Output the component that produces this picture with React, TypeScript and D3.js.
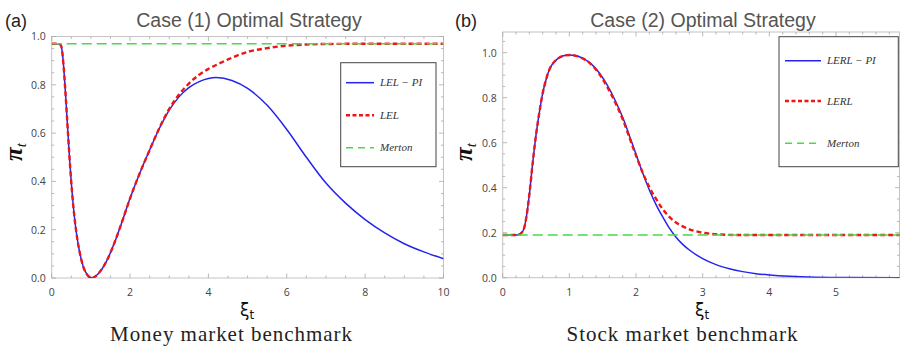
import React from "react";
import * as d3 from "d3";

// ---- Case (1): money market benchmark ----
const case1Xi = [0, 0.15, 0.23, 0.27, 0.3, 0.35, 0.4, 0.45, 0.5, 0.55, 0.6, 0.65, 0.7, 0.75, 0.8, 0.9, 1.02, 1.2, 1.4, 1.6, 1.8, 2.0, 2.25, 2.5, 2.75, 3.0, 3.25, 3.5, 3.75, 4.0, 4.2, 4.6, 5.0, 5.5, 6.0, 6.5, 7.0, 7.5, 8.0, 8.5, 9.0, 9.5, 10];
const case1LelPi = [0.97, 0.97, 0.965, 0.935, 0.885, 0.77, 0.64, 0.51, 0.395, 0.3, 0.225, 0.165, 0.118, 0.08, 0.05, 0.015, 0.0, 0.02, 0.07, 0.145, 0.235, 0.33, 0.435, 0.53, 0.62, 0.695, 0.75, 0.788, 0.812, 0.826, 0.83, 0.818, 0.785, 0.715, 0.615, 0.5, 0.393, 0.31, 0.242, 0.187, 0.142, 0.108, 0.08];
const case1LelXi = [0, 0.15, 0.23, 0.27, 0.3, 0.35, 0.4, 0.45, 0.5, 0.55, 0.6, 0.65, 0.7, 0.75, 0.8, 0.9, 1.02, 1.2, 1.4, 1.6, 1.8, 2.0, 2.25, 2.5, 2.75, 3.0, 3.25, 3.5, 3.75, 4.0, 4.25, 4.5, 5.0, 5.5, 6.0, 6.5, 7.0, 8.0, 10];
const case1Lel = [0.97, 0.97, 0.965, 0.935, 0.885, 0.77, 0.64, 0.51, 0.395, 0.3, 0.225, 0.165, 0.118, 0.08, 0.05, 0.015, 0.0, 0.02, 0.07, 0.145, 0.235, 0.33, 0.435, 0.53, 0.622, 0.7, 0.76, 0.805, 0.84, 0.866, 0.886, 0.905, 0.936, 0.952, 0.962, 0.967, 0.969, 0.97, 0.97];
const case1Merton = 0.97;

// ---- Case (2): stock market benchmark ----
const case2Xi = [0, 0.22, 0.3, 0.35, 0.4, 0.45, 0.5, 0.55, 0.6, 0.65, 0.7, 0.8, 0.9, 1.0, 1.1, 1.2, 1.31, 1.45, 1.56, 1.7, 1.81, 1.92, 2.01, 2.1, 2.2, 2.3, 2.4, 2.5, 2.6, 2.7, 2.8, 3.0, 3.2, 3.4, 3.6, 3.8, 4.0, 4.3, 4.7, 5.2, 6.0];
const case2LerlPi = [0.19, 0.19, 0.205, 0.26, 0.37, 0.51, 0.635, 0.735, 0.82, 0.88, 0.925, 0.967, 0.985, 0.99, 0.986, 0.975, 0.955, 0.91, 0.86, 0.78, 0.705, 0.615, 0.54, 0.465, 0.39, 0.325, 0.27, 0.22, 0.18, 0.148, 0.123, 0.085, 0.058, 0.04, 0.027, 0.018, 0.012, 0.006, 0.002, 0.0005, 0.0];
const case2LerlXi = [0, 0.22, 0.3, 0.35, 0.4, 0.45, 0.5, 0.55, 0.6, 0.65, 0.7, 0.8, 0.9, 1.0, 1.1, 1.2, 1.31, 1.45, 1.56, 1.7, 1.81, 1.92, 2.01, 2.1, 2.2, 2.3, 2.4, 2.5, 2.6, 2.7, 2.8, 3.0, 3.2, 3.5, 6.0];
const case2Lerl = [0.19, 0.19, 0.205, 0.26, 0.37, 0.51, 0.635, 0.735, 0.82, 0.88, 0.925, 0.967, 0.985, 0.99, 0.986, 0.975, 0.953, 0.905, 0.852, 0.772, 0.697, 0.607, 0.535, 0.467, 0.402, 0.35, 0.305, 0.27, 0.245, 0.228, 0.215, 0.2, 0.193, 0.19, 0.19];
const case2Merton = 0.19;

const BLUE = "#2424ee";
const RED = "#ee1515";
const GREEN = "#46dc46";

type Series = { xs: number[]; ys: number[] };

type PanelProps = {
  tag: string;
  title: string;
  subtitle: string;
  subWidth: number;
  left: number;
  right: number;
  top: number;
  bottom: number;
  xMax: number;
  yMax: number;
  xMajor: number[];
  xMinorStep: number;
  yMajor: number[];
  yMinorStep: number;
  blue: Series;
  red: Series;
  merton: number;
  legendNames: string[];
  legendBox: { x: number; y: number; w: number; h: number; rows: number[]; lineX0: number; lineX1: number; textX: number };
  tagX: number;
  titleX: number;
  yLabelX: number;
  xLabelX: number;
  subX: number;
};

function range(step: number, max: number) {
  const out: number[] = [];
  for (let v = 0; v <= max + 1e-9; v += step) out.push(+v.toFixed(6));
  return out;
}

function Panel(p: PanelProps) {
  const x = d3.scaleLinear().domain([0, p.xMax]).range([p.left, p.right]);
  const y = d3.scaleLinear().domain([0, p.yMax]).range([p.bottom, p.top]);
  const path = (s: Series) =>
    d3
      .line<[number, number]>()
      .x((d) => x(d[0]))
      .y((d) => y(d[1]))
      .curve(d3.curveMonotoneX)(s.xs.map((v, i) => [v, s.ys[i]] as [number, number])) || "";
  const mertonPath =
    d3
      .line<number>()
      .x((d) => x(d))
      .y(() => y(p.merton))([0, p.xMax]) || "";

  const xMinor = range(p.xMinorStep, p.xMax);
  const yMinor = range(p.yMinorStep, p.yMax);
  const isMajor = (v: number, arr: number[]) => arr.some((m) => Math.abs(m - v) < 1e-6);
  const frameColor = "#c4c4c4";
  const tickColor = "#a8a8a8";
  const clipId = `clip-${p.tag.replace(/[()]/g, "")}`;
  const lb = p.legendBox;
  const legendStyles = [
    { stroke: BLUE, width: 1.5, dash: undefined as string | undefined },
    { stroke: RED, width: 2.4, dash: "4,2.5" },
    { stroke: GREEN, width: 1.5, dash: "7,5" },
  ];

  return (
    <g>
      <text x={p.tagX} y={27} fontFamily="Liberation Sans, Arial, sans-serif" fontSize={18} fill="#222">
        {p.tag}
      </text>
      <text x={p.titleX} y={27} textAnchor="middle" fontFamily="Liberation Sans, Arial, sans-serif" fontSize={19.5} fill="#555">
        {p.title}
      </text>

      <defs>
        <clipPath id={clipId}>
          <rect x={p.left} y={p.top} width={p.right - p.left} height={p.bottom - p.top} />
        </clipPath>
      </defs>

      {/* frame */}
      <rect x={p.left} y={p.top} width={p.right - p.left} height={p.bottom - p.top} fill="none" stroke={frameColor} strokeWidth={1} />

      {/* frame ticks on all four sides */}
      {xMinor.map((v) => {
        const len = isMajor(v, p.xMajor) ? 4.5 : 2.5;
        return (
          <g key={`xt${v}`} stroke={tickColor} strokeWidth={0.8}>
            <line x1={x(v)} x2={x(v)} y1={p.bottom} y2={p.bottom - len} />
            <line x1={x(v)} x2={x(v)} y1={p.top} y2={p.top + len} />
          </g>
        );
      })}
      {yMinor.map((v) => {
        const len = isMajor(v, p.yMajor) ? 4.5 : 2.5;
        return (
          <g key={`yt${v}`} stroke={tickColor} strokeWidth={0.8}>
            <line x1={p.left} x2={p.left + len} y1={y(v)} y2={y(v)} />
            <line x1={p.right} x2={p.right - len} y1={y(v)} y2={y(v)} />
          </g>
        );
      })}

      {/* tick labels */}
      {p.xMajor.map((v) => (
        <text key={`xl${v}`} x={x(v)} y={296} textAnchor="middle" fontFamily="Open Sans, Liberation Sans, sans-serif" fontSize={10.5} fill="#444">
          {d3.format("d")(v)}
        </text>
      ))}
      {p.yMajor.map((v) => (
        <text key={`yl${v}`} x={p.left - 6} y={y(v) + 3.8} textAnchor="end" fontFamily="Open Sans, Liberation Sans, sans-serif" fontSize={10.5} fill="#444">
          {d3.format(".1f")(v)}
        </text>
      ))}

      {/* curves */}
      <g clipPath={`url(#${clipId})`} fill="none">
        <path d={path(p.blue)} stroke={BLUE} strokeWidth={1.5} />
        <path d={path(p.red)} stroke={RED} strokeWidth={2.4} strokeDasharray="5,3" />
        <path d={mertonPath} stroke={GREEN} strokeWidth={1.6} strokeDasharray="10,5" />
      </g>

      {/* legend */}
      <rect x={lb.x} y={lb.y} width={lb.w} height={lb.h} fill="#fff" stroke="#444" strokeWidth={1} />
      {p.legendNames.map((name, i) => (
        <g key={name}>
          <line
            x1={lb.lineX0}
            x2={lb.lineX1}
            y1={lb.rows[i]}
            y2={lb.rows[i]}
            stroke={legendStyles[i].stroke}
            strokeWidth={legendStyles[i].width}
            strokeDasharray={legendStyles[i].dash}
          />
          <text x={lb.textX} y={lb.rows[i] + 3.5} fontFamily="Liberation Serif, Times New Roman, serif" fontStyle="italic" fontSize={11} fill="#333">
            {name}
          </text>
        </g>
      ))}

      {/* axis labels */}
      <text
        transform={`translate(${p.yLabelX},152) rotate(-90)`}
        textAnchor="middle"
        fontFamily="Liberation Serif, Times New Roman, serif"
        fontStyle="italic"
        fontWeight="bold"
        fontSize={25}
        fill="#111"
      >
        π<tspan fontSize={15} dy={4} fontWeight="normal">t</tspan>
      </text>
      <text x={p.xLabelX} y={316} textAnchor="middle" fontFamily="DejaVu Sans, sans-serif" fontSize={17} fill="#111">
        ξ<tspan fontSize={12} dy={3}>t</tspan>
      </text>
      <text x={p.subX} y={341} textAnchor="middle" fontFamily="Liberation Serif, Times New Roman, serif" fontSize={21} fill="#222" textLength={p.subWidth} lengthAdjust="spacing">
        {p.subtitle}
      </text>
    </g>
  );
}

export default function App() {
  return (
    <svg width={900} height={347} viewBox="0 0 900 347" style={{ position: "absolute", left: 0, top: 0, background: "#fff" }}>
      <rect x={0} y={0} width={900} height={347} fill="#fff" />
      <Panel
        tag="(a)"
        title="Case (1) Optimal Strategy"
        subtitle="Money market benchmark"
        subWidth={242}
        left={51.7}
        right={443.5}
        top={36.5}
        bottom={278}
        xMax={10}
        yMax={1}
        xMajor={[0, 2, 4, 6, 8, 10]}
        xMinorStep={0.5}
        yMajor={[0, 0.2, 0.4, 0.6, 0.8, 1.0]}
        yMinorStep={0.05}
        blue={{ xs: case1Xi, ys: case1LelPi }}
        red={{ xs: case1LelXi, ys: case1Lel }}
        merton={case1Merton}
        legendNames={["LEL − PI", "LEL", "Merton"]}
        legendBox={{ x: 340.7, y: 62.7, w: 95.3, h: 104, rows: [82.7, 115.3, 147.7], lineX0: 346, lineX1: 374, textX: 380 }}
        tagX={5}
        titleX={249}
        yLabelX={22}
        xLabelX={247}
        subX={231}
      />
      <Panel
        tag="(b)"
        title="Case (2) Optimal Strategy"
        subtitle="Stock market benchmark"
        subWidth={231}
        left={502.7}
        right={899.5}
        top={32}
        bottom={277.7}
        xMax={5.952}
        yMax={1.092}
        xMajor={[0, 1, 2, 3, 4, 5]}
        xMinorStep={0.2}
        yMajor={[0, 0.2, 0.4, 0.6, 0.8, 1.0]}
        yMinorStep={0.05}
        blue={{ xs: case2Xi, ys: case2LerlPi }}
        red={{ xs: case2LerlXi, ys: case2Lerl }}
        merton={case2Merton}
        legendNames={["LERL − PI", "LERL", "Merton"]}
        legendBox={{ x: 779, y: 36.7, w: 119.3, h: 130, rows: [60.7, 101, 143.3], lineX0: 785, lineX1: 821, textX: 827 }}
        tagX={455}
        titleX={703}
        yLabelX={472}
        xLabelX={702}
        subX={682}
      />
    </svg>
  );
}
